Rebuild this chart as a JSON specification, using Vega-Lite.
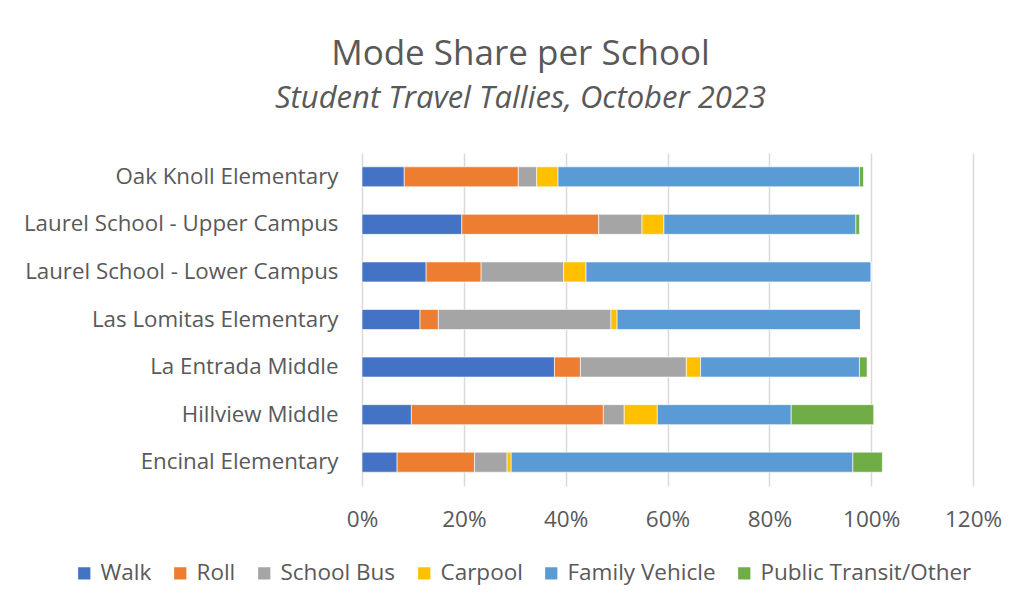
{
  "$schema": "https://vega.github.io/schema/vega-lite/v6.json",
  "autosize": {"type": "none"},
  "width": 611,
  "height": 333,
  "padding": {"left": 362, "top": 153, "right": 47, "bottom": 125},
  "background": "white",
  "title": {
    "text": "Mode Share per School",
    "subtitle": "Student Travel Tallies, October 2023",
    "anchor": "middle",
    "dx": -147,
    "offset": 39,
    "font": "Open Sans",
    "fontSize": 35,
    "fontWeight": "normal",
    "color": "#595959",
    "subtitleFont": "Open Sans",
    "subtitleFontSize": 31,
    "subtitleFontStyle": "italic",
    "subtitleColor": "#595959",
    "subtitlePadding": 12
  },
  "config": {
    "view": {"stroke": null},
    "font": "Open Sans"
  },
  "data": {
    "values": [
      {"school": "Oak Knoll Elementary", "mode": "Walk", "o": 1, "pct": 8.3},
      {"school": "Oak Knoll Elementary", "mode": "Roll", "o": 2, "pct": 22.4},
      {"school": "Oak Knoll Elementary", "mode": "School Bus", "o": 3, "pct": 3.6},
      {"school": "Oak Knoll Elementary", "mode": "Carpool", "o": 4, "pct": 4.2},
      {"school": "Oak Knoll Elementary", "mode": "Family Vehicle", "o": 5, "pct": 59.2},
      {"school": "Oak Knoll Elementary", "mode": "Public Transit/Other", "o": 6, "pct": 0.8},
      {"school": "Laurel School - Upper Campus", "mode": "Walk", "o": 1, "pct": 19.6},
      {"school": "Laurel School - Upper Campus", "mode": "Roll", "o": 2, "pct": 26.9},
      {"school": "Laurel School - Upper Campus", "mode": "School Bus", "o": 3, "pct": 8.5},
      {"school": "Laurel School - Upper Campus", "mode": "Carpool", "o": 4, "pct": 4.3},
      {"school": "Laurel School - Upper Campus", "mode": "Family Vehicle", "o": 5, "pct": 37.7},
      {"school": "Laurel School - Upper Campus", "mode": "Public Transit/Other", "o": 6, "pct": 0.7},
      {"school": "Laurel School - Lower Campus", "mode": "Walk", "o": 1, "pct": 12.6},
      {"school": "Laurel School - Lower Campus", "mode": "Roll", "o": 2, "pct": 10.8},
      {"school": "Laurel School - Lower Campus", "mode": "School Bus", "o": 3, "pct": 16.2},
      {"school": "Laurel School - Lower Campus", "mode": "Carpool", "o": 4, "pct": 4.4},
      {"school": "Laurel School - Lower Campus", "mode": "Family Vehicle", "o": 5, "pct": 56.0},
      {"school": "Laurel School - Lower Campus", "mode": "Public Transit/Other", "o": 6, "pct": 0},
      {"school": "Las Lomitas Elementary", "mode": "Walk", "o": 1, "pct": 11.4},
      {"school": "Las Lomitas Elementary", "mode": "Roll", "o": 2, "pct": 3.6},
      {"school": "Las Lomitas Elementary", "mode": "School Bus", "o": 3, "pct": 33.9},
      {"school": "Las Lomitas Elementary", "mode": "Carpool", "o": 4, "pct": 1.2},
      {"school": "Las Lomitas Elementary", "mode": "Family Vehicle", "o": 5, "pct": 47.8},
      {"school": "Las Lomitas Elementary", "mode": "Public Transit/Other", "o": 6, "pct": 0},
      {"school": "La Entrada Middle", "mode": "Walk", "o": 1, "pct": 37.8},
      {"school": "La Entrada Middle", "mode": "Roll", "o": 2, "pct": 5.1},
      {"school": "La Entrada Middle", "mode": "School Bus", "o": 3, "pct": 20.8},
      {"school": "La Entrada Middle", "mode": "Carpool", "o": 4, "pct": 2.8},
      {"school": "La Entrada Middle", "mode": "Family Vehicle", "o": 5, "pct": 31.2},
      {"school": "La Entrada Middle", "mode": "Public Transit/Other", "o": 6, "pct": 1.5},
      {"school": "Hillview Middle", "mode": "Walk", "o": 1, "pct": 9.7},
      {"school": "Hillview Middle", "mode": "Roll", "o": 2, "pct": 37.7},
      {"school": "Hillview Middle", "mode": "School Bus", "o": 3, "pct": 4.1},
      {"school": "Hillview Middle", "mode": "Carpool", "o": 4, "pct": 6.5},
      {"school": "Hillview Middle", "mode": "Family Vehicle", "o": 5, "pct": 26.3},
      {"school": "Hillview Middle", "mode": "Public Transit/Other", "o": 6, "pct": 16.2},
      {"school": "Encinal Elementary", "mode": "Walk", "o": 1, "pct": 6.9},
      {"school": "Encinal Elementary", "mode": "Roll", "o": 2, "pct": 15.2},
      {"school": "Encinal Elementary", "mode": "School Bus", "o": 3, "pct": 6.4},
      {"school": "Encinal Elementary", "mode": "Carpool", "o": 4, "pct": 0.8},
      {"school": "Encinal Elementary", "mode": "Family Vehicle", "o": 5, "pct": 67.1},
      {"school": "Encinal Elementary", "mode": "Public Transit/Other", "o": 6, "pct": 5.8}
    ]
  },
  "mark": {"type": "bar", "height": 20, "stroke": "white", "strokeWidth": 0.6},
  "encoding": {
    "y": {
      "field": "school",
      "type": "nominal",
      "sort": ["Oak Knoll Elementary", "Laurel School - Upper Campus", "Laurel School - Lower Campus", "Las Lomitas Elementary", "La Entrada Middle", "Hillview Middle", "Encinal Elementary"],
      "scale": {"paddingInner": 0, "paddingOuter": 0},
      "axis": {
        "title": null,
        "ticks": false,
        "domain": false,
        "grid": false,
        "labelFontSize": 22.3,
        "labelColor": "#595959",
        "labelPadding": 24,
        "labelLimit": 400
      }
    },
    "x": {
      "field": "pct",
      "type": "quantitative",
      "stack": "zero",
      "scale": {"domain": [0, 120], "nice": false},
      "axis": {
        "title": null,
        "values": [0, 20, 40, 60, 80, 100, 120],
        "labelExpr": "datum.value + '%'",
        "labelFlush": false,
        "labelFontSize": 22.5,
        "labelColor": "#595959",
        "labelPadding": 22,
        "ticks": false,
        "domain": false,
        "grid": true,
        "gridColor": "#d9d9d9",
        "gridWidth": 1.5
      }
    },
    "color": {
      "field": "mode",
      "type": "nominal",
      "scale": {
        "domain": ["Walk", "Roll", "School Bus", "Carpool", "Family Vehicle", "Public Transit/Other"],
        "range": ["#4472C4", "#ED7D31", "#A5A5A5", "#FFC000", "#5B9BD5", "#70AD47"]
      },
      "legend": {
        "title": null,
        "orient": "none",
        "direction": "horizontal",
        "legendX": -289,
        "legendY": 409,
        "symbolType": "square",
        "symbolSize": 150,
        "symbolStrokeWidth": 0,
        "labelFontSize": 22.5,
        "labelColor": "#595959",
        "labelLimit": 400,
        "columnPadding": 17,
        "labelOffset": 5
      }
    },
    "order": {"field": "o", "type": "quantitative"}
  }
}
